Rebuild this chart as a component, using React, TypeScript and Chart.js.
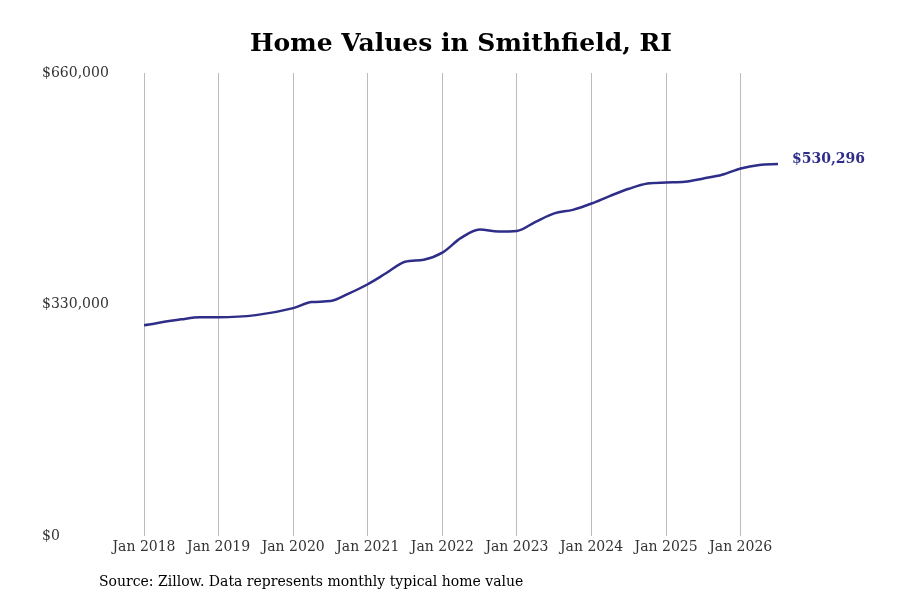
import React, { useEffect, useRef } from "react";
import { Chart, registerables } from "chart.js";
Chart.register(...registerables);

const monthIndex = [0, 6, 9, 12, 18, 24, 27, 30, 33, 36, 39, 42, 45, 48, 51, 54, 57, 60, 63, 66, 69, 72, 75, 78, 81, 84, 87, 90, 93, 96, 99, 102];
const homeValues = [300600, 309000, 312000, 312000, 315000, 325000, 333600, 335000, 346000, 359000, 375000, 391000, 394000, 404000, 425000, 437000, 434000, 435000, 448000, 460000, 465000, 474000, 485000, 495000, 502500, 504000, 505000, 509700, 515000, 524000, 529000, 530296];
const yearLabels = ["Jan 2018", "Jan 2019", "Jan 2020", "Jan 2021", "Jan 2022", "Jan 2023", "Jan 2024", "Jan 2025", "Jan 2026"];
const yTicks = [0, 330000, 660000];
const FONT = "'DejaVu Serif', serif";

export default function App() {
  const ref = useRef<HTMLCanvasElement>(null);
  useEffect(() => {
    const textPlugin = {
      id: "texts",
      afterDraw(c: any) {
        const ctx = c.ctx;
        ctx.save();
        ctx.fillStyle = "#000";
        ctx.font = `bold 25px ${FONT}`;
        ctx.textAlign = "center";
        ctx.textBaseline = "middle";
        ctx.fillText("Home Values in Smithfield, RI", 461, 44);
        ctx.font = `14px ${FONT}`;
        ctx.textAlign = "left";
        ctx.fillText("Source: Zillow. Data represents monthly typical home value", 99, 582);
        const meta = c.getDatasetMeta(0);
        const p = meta.data[meta.data.length - 1];
        ctx.fillStyle = "#2e2d88";
        ctx.font = `bold 14px ${FONT}`;
        ctx.fillText("$530,296", p.x + 14, p.y - 5);
        ctx.restore();
      },
    };
    const chart = new Chart(ref.current!, {
      type: "line",
      data: {
        datasets: [{
          data: monthIndex.map((m, i) => ({ x: m, y: homeValues[i] })),
          borderColor: "#2e2d88",
          borderWidth: 2.5,
          pointRadius: 0,
          tension: 0.4,
          cubicInterpolationMode: "monotone",
        }],
      },
      options: {
        animation: false,
        responsive: false,
        layout: { padding: { left: 42, right: 122, top: 73, bottom: 41 } },
        plugins: { legend: { display: false }, tooltip: { enabled: false } },
        scales: {
          x: {
            type: "linear", min: 0, max: 102,
            afterBuildTicks: (ax: any) => { ax.ticks = yearLabels.map((_, i) => ({ value: i * 12 })); },
            ticks: { font: { family: FONT, size: 14 }, color: "#333", maxRotation: 0, autoSkip: false,
              callback: (v: any) => yearLabels[Math.round(v / 12)] },
            grid: { color: "#bbb", drawTicks: false },
            border: { display: false },
          },
          y: {
            min: 0, max: 660000,
            afterBuildTicks: (ax: any) => { ax.ticks = yTicks.map(v => ({ value: v })); },
            afterFit: (ax: any) => { ax.width = 102; },
            ticks: { font: { family: FONT, size: 14 }, color: "#333", crossAlign: "far",
              callback: (v: any) => "$" + Number(v).toLocaleString("en-US") },
            grid: { display: false },
            border: { display: false },
          },
        },
      } as any,
      plugins: [textPlugin],
    });
    return () => chart.destroy();
  }, []);
  return <div style={{ position: "fixed", left: 0, top: 0 }}><canvas ref={ref} width={900} height={600} /></div>;
}
